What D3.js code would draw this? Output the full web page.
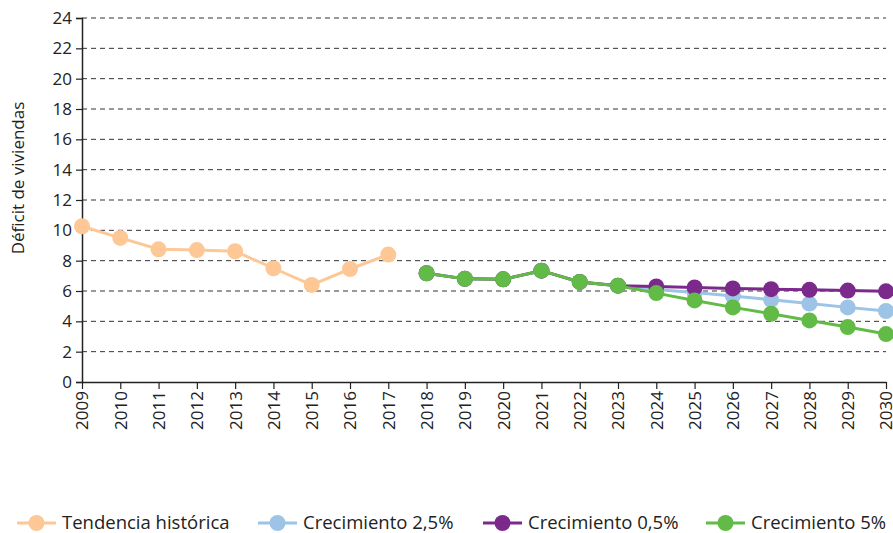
<!DOCTYPE html>
<html>
<head>
<meta charset="utf-8">
<script src="https://cdn.jsdelivr.net/npm/d3@7"></script>
<style>
body { margin: 0; background: #fff; }
text { font-family: "Open Sans", "Noto Sans", sans-serif; fill: #222; }
</style>
</head>
<body>
<div id="chart"></div>
<script>
var years = [2009,2010,2011,2012,2013,2014,2015,2016,2017,2018,2019,2020,2021,2022,2023,2024,2025,2026,2027,2028,2029,2030];
var yTicks = [0,2,4,6,8,10,12,14,16,18,20,22,24];

var histYears = [2009,2010,2011,2012,2013,2014,2015,2016,2017];
var histVals = [10.27,9.5,8.75,8.7,8.62,7.5,6.4,7.45,8.4];

var projYears = [2018,2019,2020,2021,2022,2023,2024,2025,2026,2027,2028,2029,2030];
var crec25 = [7.17,6.8,6.77,7.34,6.6,6.35,6.1,5.9,5.67,5.42,5.17,4.92,4.68];
var crec05 = [7.17,6.8,6.77,7.34,6.6,6.35,6.3,6.23,6.17,6.12,6.08,6.03,5.98];
var crec5 = [7.17,6.8,6.77,7.34,6.6,6.35,5.86,5.38,4.92,4.5,4.06,3.62,3.16];

var series = [
	{name: "Tendencia histórica", color: "#FDC896", xs: histYears, ys: histVals},
	{name: "Crecimiento 2,5%", color: "#9DC3E6", xs: projYears, ys: crec25},
	{name: "Crecimiento 0,5%", color: "#7B2A8C", xs: projYears, ys: crec05},
	{name: "Crecimiento 5%", color: "#62BB46", xs: projYears, ys: crec5}
];

var width = 893, height = 533;
var mLeft = 82, mRight = 886, mTop = 18, mBottom = 382;

var svg = d3.select("#chart").append("svg")
	.attr("width", width)
	.attr("height", height);

var x = d3.scaleLinear().domain([2009, 2030]).range([mLeft, mRight]);
var y = d3.scaleLinear().domain([0, 24]).range([mBottom, mTop]);

// dashed gridlines
svg.append("g")
	.selectAll("line")
	.data(yTicks.filter(d => d > 0))
	.join("line")
	.attr("x1", mLeft).attr("x2", mRight)
	.attr("y1", d => y(d)).attr("y2", d => y(d))
	.attr("stroke", "#333")
	.attr("stroke-width", 1)
	.attr("stroke-dasharray", "5,4");

// y axis
var yAxis = svg.append("g")
	.attr("transform", "translate(" + mLeft + ",0)")
	.call(d3.axisLeft(y).tickValues(yTicks).tickSize(6).tickPadding(4));
yAxis.select(".domain").attr("stroke", "#222").attr("stroke-width", 1.5);
yAxis.selectAll(".tick line").attr("stroke", "#222").attr("stroke-width", 1.2);
yAxis.selectAll("text").attr("font-size", 17).attr("fill", "#222")
	.style("font-family", "'Open Sans', 'Noto Sans', sans-serif");

// x axis
var xAxis = svg.append("g")
	.attr("transform", "translate(0," + mBottom + ")")
	.call(d3.axisBottom(x).tickValues(years).tickFormat(d3.format("d")).tickSize(7).tickSizeOuter(0));
xAxis.select(".domain").attr("stroke", "#222").attr("stroke-width", 1.5);
xAxis.selectAll(".tick line").attr("stroke", "#222").attr("stroke-width", 1.2);
xAxis.selectAll("text")
	.attr("font-size", 17).attr("fill", "#222")
	.style("font-family", "'Open Sans', 'Noto Sans', sans-serif")
	.attr("text-anchor", "end")
	.attr("transform", "rotate(-90)")
	.attr("x", -9).attr("y", 0).attr("dy", "0.35em");

// y axis title
svg.append("text")
	.attr("transform", "translate(24," + ((mTop + mBottom) / 2 - 22) + ") rotate(-90)")
	.attr("text-anchor", "middle")
	.attr("font-size", 17)
	.text("Déficit de viviendas");

// lines and markers
var line = d3.line().x(d => x(d[0])).y(d => y(d[1]));
series.forEach(function(s) {
	var pts = s.xs.map((v, i) => [v, s.ys[i]]);
	var g = svg.append("g");
	g.append("path")
		.datum(pts)
		.attr("d", line)
		.attr("fill", "none")
		.attr("stroke", s.color)
		.attr("stroke-width", 3);
	g.selectAll("circle")
		.data(pts)
		.join("circle")
		.attr("cx", d => x(d[0]))
		.attr("cy", d => y(d[1]))
		.attr("r", 8)
		.attr("fill", s.color);
});

// legend
var legendX = [17, 258, 483, 706];
var legend = svg.append("g");
series.forEach(function(s, i) {
	var lg = legend.append("g").attr("transform", "translate(" + legendX[i] + ",523)");
	lg.append("line").attr("x1", 0).attr("x2", 39).attr("y1", 0).attr("y2", 0)
		.attr("stroke", s.color).attr("stroke-width", 3);
	lg.append("circle").attr("cx", 19.5).attr("cy", 0).attr("r", 8).attr("fill", s.color);
	lg.append("text").attr("x", 45).attr("y", 0).attr("dy", "0.35em")
		.attr("font-size", 18.5).text(s.name);
});
</script>
</body>
</html>
